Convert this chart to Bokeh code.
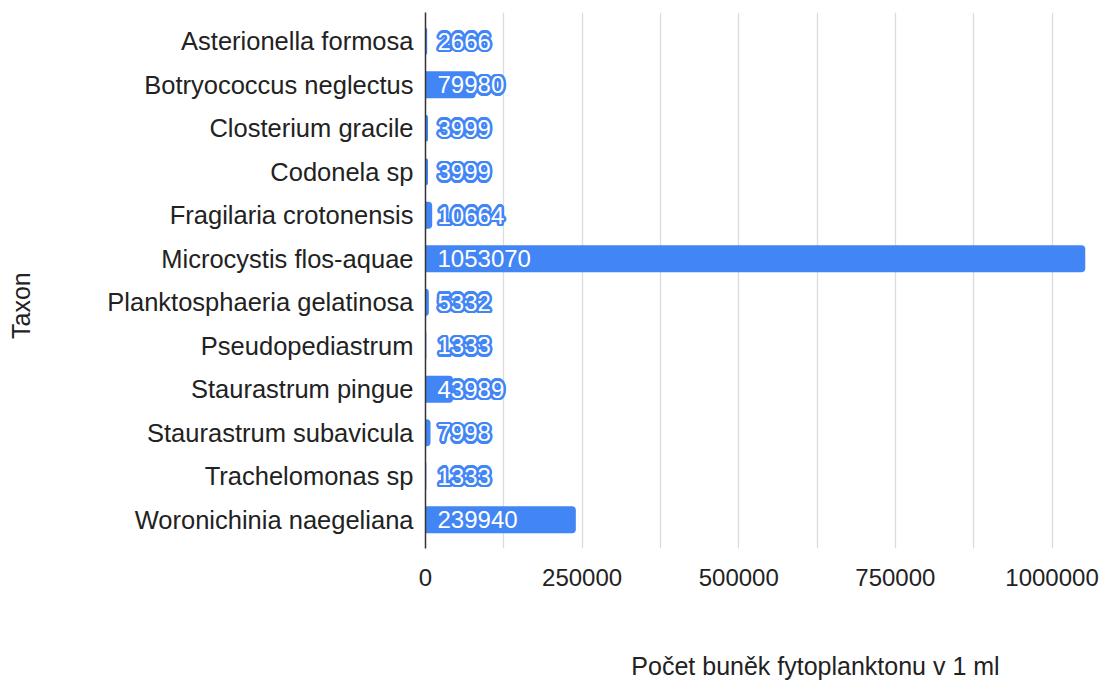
import math
from bokeh.plotting import figure
from bokeh.layouts import row, column
from bokeh.models import (ColumnDataSource, FactorRange, Range1d, FixedTicker,
                          BasicTickFormatter)
from bokeh.core.properties import value
from bokeh.embed import file_html
from bokeh.resources import INLINE

taxa = ["Asterionella formosa", "Botryococcus neglectus", "Closterium gracile",
        "Codonela sp", "Fragilaria crotonensis", "Microcystis flos-aquae",
        "Planktosphaeria gelatinosa", "Pseudopediastrum", "Staurastrum pingue",
        "Staurastrum subavicula", "Trachelomonas sp", "Woronichinia naegeliana"]
counts = [2666, 79980, 3999, 3999, 10664, 1053070, 5332, 1333, 43989, 7998, 1333, 239940]
x_ticks = [0, 250000, 500000, 750000, 1000000]
grid_ticks = [0, 125000, 250000, 375000, 500000, 625000, 750000, 875000, 1000000]
x_title = "Počet buněk fytoplanktonu v 1 ml"
y_title = "Taxon"

BLUE = "#4285F4"
FONT = "Liberation Sans"
TXT = "#222222"

src = ColumnDataSource(dict(taxon=taxa, count=counts, label=[str(c) for c in counts]))
halo_src = ColumnDataSource(dict(
    taxon=[t for t, c in zip(taxa, counts) if c < 150000],
    count=[c for c in counts if c < 150000],
    label=[str(c) for c in counts if c < 150000]))

p = figure(width=1060, height=640, output_backend="svg", toolbar_location=None,
           y_range=FactorRange(factors=list(reversed(taxa)), range_padding=0.0267,
                               range_padding_units="percent"),
           x_range=Range1d(0, 1072600),
           min_border_left=385, min_border_top=12, min_border_bottom=92, min_border_right=3)
p.outline_line_color = None
p.background_fill_color = "white"

p.hbar(y="taxon", right="count", left=0, height=0.62, source=src, fill_color=BLUE,
       line_color=None, border_radius=(0, 4, 4, 0))

# halo around labels of short bars
r = 2.5
for k in range(16):
    a = 2 * math.pi * k / 16
    p.text(x=0, y="taxon", text="label", source=halo_src, x_offset=12 + r * math.cos(a),
           y_offset=r * math.sin(a), text_color=BLUE, text_font=value(FONT),
           text_font_size="24px", text_align="left", text_baseline="middle")
p.text(x=0, y="taxon", text="label", source=src, x_offset=12, text_color="white",
       text_font=value(FONT), text_font_size="24px", text_align="left",
       text_baseline="middle")

# axes
p.xaxis.ticker = FixedTicker(ticks=x_ticks)
p.xaxis.formatter = BasicTickFormatter(use_scientific=False)
p.xaxis.axis_line_color = None
p.xaxis.major_tick_line_color = None
p.xaxis.minor_tick_line_color = None
p.xaxis.major_label_text_font = FONT
p.xaxis.major_label_text_font_size = "24px"
p.xaxis.major_label_text_color = TXT
p.xaxis.major_label_standoff = 14

p.yaxis.axis_line_color = "#333333"
p.yaxis.axis_line_width = 1.5
p.yaxis.major_tick_line_color = None
p.yaxis.minor_tick_line_color = None
p.yaxis.major_label_text_font = FONT
p.yaxis.major_label_text_font_size = "25.5px"
p.yaxis.major_label_text_color = TXT
p.yaxis.major_label_standoff = 6

p.xgrid.ticker = FixedTicker(ticks=grid_ticks)
p.xgrid.grid_line_color = "#dcdcdc"
p.xgrid.grid_line_width = 1.3
p.ygrid.grid_line_color = None


def strip(w, h):
    f = figure(width=w, height=h, output_backend="svg", toolbar_location=None,
               x_range=Range1d(0, w), y_range=Range1d(0, h), min_border=0)
    f.axis.visible = False
    f.grid.visible = False
    f.outline_line_color = None
    return f


p_left = strip(40, 640)
p_left.text(x=[20], y=[290], text=[y_title], angle=math.pi / 2,
            text_font=value(FONT), text_font_size="25px", text_color=TXT,
            text_align="center", text_baseline="middle")

p_bottom = strip(1100, 40)
p_bottom.text(x=[815], y=[15], text=[x_title], text_font=value(FONT),
              text_font_size="25px", text_color=TXT, text_align="center",
              text_baseline="middle")

layout = column(row(p_left, p), p_bottom)
open("out.html", "w").write(file_html(layout, INLINE))
